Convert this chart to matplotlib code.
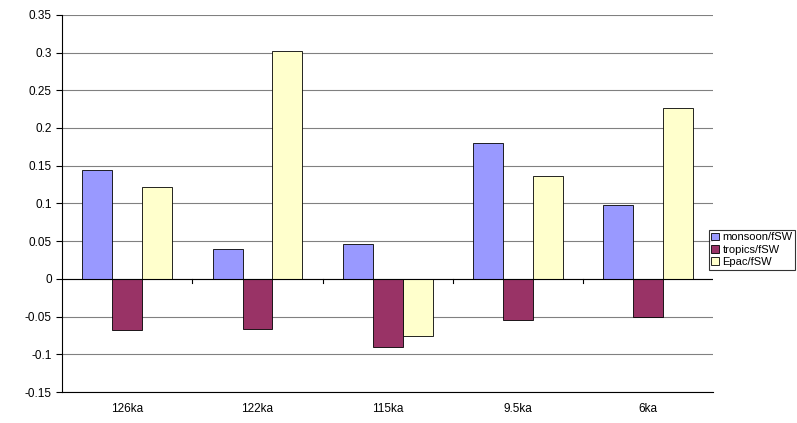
import numpy as np
import matplotlib.pyplot as plt

plt.rcParams['font.family'] = ['Liberation Sans', 'DejaVu Sans']

categories = ["126ka", "122ka", "115ka", "9.5ka", "6ka"]
monsoon = [0.144, 0.040, 0.046, 0.180, 0.098]
tropics = [-0.068, -0.066, -0.090, -0.055, -0.051]
epac = [0.122, 0.302, -0.075, 0.136, 0.226]

fig = plt.figure(figsize=(7.97, 4.23), dpi=100)
ax = fig.add_axes([0.078, 0.073, 0.817, 0.892])
x = np.arange(len(categories))
w = 0.23
ax.bar(x - w, monsoon, w, color="#9999FF", edgecolor="black", linewidth=0.6, label="monsoon/fSW", zorder=3)
ax.bar(x, tropics, w, color="#993366", edgecolor="black", linewidth=0.6, label="tropics/fSW", zorder=3)
ax.bar(x + w, epac, w, color="#FFFFCC", edgecolor="black", linewidth=0.6, label="Epac/fSW", zorder=3)

ax.set_ylim(-0.15, 0.35)
ax.set_xlim(-0.5, len(categories) - 0.5)
ax.set_yticks(np.arange(-0.15, 0.351, 0.05))
ax.set_yticklabels(["-0.15", "-0.1", "-0.05", "0", "0.05", "0.1", "0.15", "0.2", "0.25", "0.3", "0.35"])
ax.yaxis.grid(True, color="#808080", linewidth=0.8, zorder=0)
ax.axhline(0, color="black", linewidth=0.8, zorder=4)
ax.set_xticks(x)
ax.set_xticklabels(categories)
ax.tick_params(axis="x", length=0, pad=8, labelsize=8.5)
ax.tick_params(axis="y", length=4, labelsize=8.5)
for b in np.arange(0.5, len(categories) - 0.5, 1.0):
    ax.plot([b, b], [0, -0.006], color="black", linewidth=0.8, zorder=4)
for s in ["top", "right"]:
    ax.spines[s].set_visible(False)
for s in ["bottom", "left"]:
    ax.spines[s].set_color("black")
    ax.spines[s].set_linewidth(0.8)

leg = fig.legend(loc="center right", bbox_to_anchor=(0.998, 0.41), frameon=True, fancybox=False,
                 edgecolor="black", fontsize=8, handlelength=0.7, handleheight=0.7,
                 borderpad=0.25, labelspacing=0.2, handletextpad=0.3, borderaxespad=0)
leg.get_frame().set_linewidth(0.8)

fig.savefig("out.png", dpi=100)
